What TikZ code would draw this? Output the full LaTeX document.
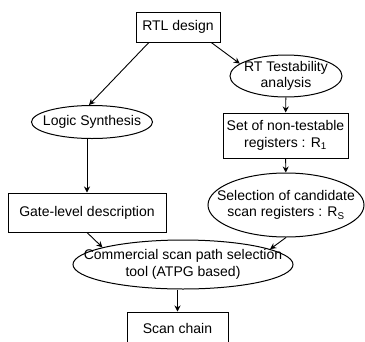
\documentclass[tikz,border=0pt]{standalone}
\usepackage{fontspec}
\setmainfont{Liberation Sans}
\usetikzlibrary{shapes.geometric,arrows.meta}

\begin{document}
\begin{tikzpicture}[x=1pt,y=-1pt,line width=0.9pt,>={Stealth[length=6pt,width=6pt]},
	oval/.style={ellipse,inner xsep=-30pt,inner ysep=-5pt}]
	\useasboundingbox (0,0) rectangle (365,341);
	
	\begin{scope}[every node/.style={draw,line width=1pt,inner sep=0pt,align=center,font=\fontsize{14}{16.5}\selectfont}]
	\node[rectangle,minimum width=84pt,minimum height=30pt] (rtl design) at (178,27) {RTL design};
	\node[oval,minimum width=112pt,minimum height=42pt] (rt test) at (286,76) {RT Testability\\analysis};
	\node[oval,minimum width=121pt,minimum height=33pt] (logic synth) at (92,122) {Logic Synthesis};
	\node[rectangle,minimum width=125pt,minimum height=45pt] (set regs) at (285.5,135.5) {Set of non-testable\\registers : R\textsubscript{1}};
	\node[rectangle,minimum width=158pt,minimum height=39pt] (gate level) at (87,212.5) {Gate-level description};
	\node[oval,minimum width=156pt,minimum height=64pt] (sel regs) at (286,205) {Selection of candidate\\scan registers : R\textsubscript{S}};
	\node[oval,minimum width=220pt,minimum height=49pt] (commercial) at (183,264.5) {Commercial scan path selection\\tool (ATPG based)};
	\node[rectangle,minimum width=101pt,minimum height=32pt] (scan chain) at (177.5,328) {Scan chain};
	\end{scope}
	
	\begin{scope}
	\path [->] (rtl design.208) edge (logic synth.100);
	\path [->] (rtl design.-25) edge (rt test.165);
	\draw [->] (logic synth.south -| gate level.north) -- (gate level.north);
	\path [->] (rt test) edge (set regs);
	\path [->] (set regs) edge (sel regs);
	\path [->] (gate level.south) edge (commercial.168);
	\path [->] (sel regs.south) edge (commercial.10);
	\draw [->] (commercial.south -| scan chain.north) -- (scan chain.north);
	\end{scope}
	
\end{tikzpicture}
\end{document}
